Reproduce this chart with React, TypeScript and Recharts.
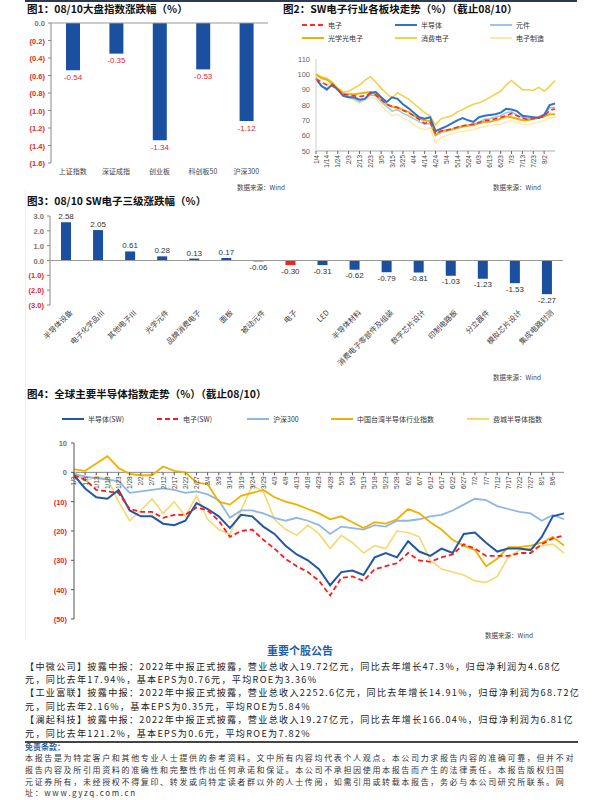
import React from 'react'
import {
  BarChart,
  Bar,
  LineChart,
  Line,
  XAxis,
  YAxis,
  ReferenceLine,
  LabelList,
  Cell,
} from 'recharts'

const CJK = '"Noto Sans CJK SC", "Noto Sans", sans-serif'
const NUM = '"Liberation Sans", Arial, sans-serif'
const RED = '#e3262b'
const NAVY = '#1b4f9f'

// 图1 大盘指数
const idxNames = ['上证指数', '深证成指', '创业板', '科创板50', '沪深300']
const idxChg = [-0.54, -0.35, -1.34, -0.53, -1.12]
const c1Ticks = [0, -0.2, -0.4, -0.6, -0.8, -1.0, -1.2, -1.4, -1.6]

// 图2 SW电子各板块
const c2Dates = ['1/4', '1/9', '1/14', '1/19', '1/24', '1/29', '2/3', '2/8', '2/13', '2/18', '2/23', '2/28', '3/5', '3/10', '3/15', '3/20', '3/25', '3/30', '4/4', '4/9', '4/14', '4/19', '4/24', '4/29', '5/4', '5/9', '5/14', '5/19', '5/24', '5/29', '6/3', '6/8', '6/13', '6/18', '6/23', '6/28', '7/3', '7/8', '7/13', '7/18', '7/23', '7/28', '8/2', '8/7', '8/10']
const c2Ticks = ['1/4', '1/14', '1/24', '2/3', '2/13', '2/23', '3/5', '3/15', '3/25', '4/4', '4/14', '4/24', '5/4', '5/14', '5/24', '6/3', '6/13', '6/23', '7/3', '7/13', '7/23', '8/2']
const c2YTicks = [50, 60, 70, 80, 90, 100, 110]
const dianzi = [97, 95, 93, 92.5, 90, 87, 86.5, 86, 85.5, 86, 87.5, 86.5, 83.5, 80.5, 79, 78.5, 76.5, 75, 73, 70.5, 68, 69, 61.5, 63, 63.5, 64.5, 65.5, 66.5, 67, 67.5, 68.5, 70, 70, 71, 72, 73, 74.5, 73, 71.5, 70.5, 71, 72, 72.5, 76.5, 77.5]
const bandaoti = [97, 92.5, 90, 93.5, 90, 86, 85, 85, 83.5, 84, 88, 88.5, 85, 82, 85, 84, 80.5, 78, 75, 72, 71, 72, 63, 64.5, 66, 68, 70, 71.5, 70, 69, 72, 73, 73.5, 74, 75, 77.5, 77, 76, 73, 72.5, 72, 71.5, 73.5, 80, 81]
const yuanjian = [98, 92, 91, 93, 90, 86.5, 85, 84, 82, 84, 86.5, 86, 82, 79, 76, 77, 74.5, 73, 71, 69, 67.5, 68, 60, 62, 63, 64, 65.5, 66, 67, 67.5, 69, 70.5, 71, 72, 73, 75, 75.5, 73.5, 72, 71, 71.5, 72.5, 74, 78, 78.5]
const guangxue = [100, 97.5, 96.5, 94, 90.5, 87.5, 87, 87, 87.5, 88, 88.5, 87, 84, 80.5, 79, 78, 77, 75.5, 73, 71, 70, 69.5, 60.5, 63, 63.5, 64, 65, 66, 66.5, 67, 68, 69, 69, 70, 71, 72.5, 72, 71, 70, 70, 71, 71.5, 72.5, 74, 74]
const xiaofei = [100, 98.5, 97.5, 95, 91, 88.5, 89, 91, 93, 96, 98.5, 95, 91, 87.5, 84.5, 88, 86, 84, 81, 78, 75, 73, 67, 71, 72, 73, 75.5, 77, 79, 80.5, 81.5, 83, 85, 87, 89, 93, 96, 93, 90, 90, 89.5, 91.5, 89, 92, 96]
const zhizao = [99, 94, 93, 95, 90, 86, 85, 83, 81, 83, 85, 84, 80, 76, 73, 74, 71.5, 70, 67, 65, 64, 65, 55, 59, 60, 61, 62, 63, 63.5, 64, 65, 66, 66.5, 67, 67.5, 69, 70, 68.5, 67.5, 67, 68, 69, 70, 71.5, 72]

// 图3 SW电子三级
const subNames = ['半导体设备', '电子化学品Ⅲ', '其他电子Ⅲ', '光学元件', '品牌消费电子', '面板', '被动元件', '电子', 'LED', '半导体材料', '消费电子零部件及组装', '数字芯片设计', '印制电路板', '分立器件', '模拟芯片设计', '集成电路封测']
const subChg = [2.58, 2.05, 0.61, 0.28, 0.13, 0.17, -0.06, -0.3, -0.31, -0.62, -0.79, -0.81, -1.03, -1.23, -1.53, -2.27]
const c3Ticks = [-3, -2, -1, 0, 1, 2, 3]

// 图4 全球半导体指数
const c4Dates = ['1/3', '1/8', '1/13', '1/18', '1/23', '1/28', '2/2', '2/7', '2/12', '2/17', '2/22', '2/27', '3/4', '3/9', '3/14', '3/19', '3/24', '3/29', '4/3', '4/8', '4/13', '4/18', '4/23', '4/28', '5/3', '5/8', '5/13', '5/18', '5/23', '5/28', '6/2', '6/7', '6/12', '6/17', '6/22', '6/27', '7/2', '7/7', '7/12', '7/17', '7/22', '7/27', '8/1', '8/6', '8/10']
const c4Ticks = [-50, -40, -30, -20, -10, 0, 10]
const semiSW = [-1, -5.5, -8.5, -9, -6, -13, -15, -15, -17.5, -18, -16.5, -10.5, -12.5, -15, -19, -14.5, -15, -18.5, -21, -25, -28, -30, -33, -38.5, -34, -33.5, -35, -29, -27.5, -29, -23.5, -27, -28.5, -26, -27.5, -21, -20.5, -24, -27, -26, -26, -26.5, -22, -15, -14]
const elecSW = [-1, -2.5, -6, -6.5, -7, -12.5, -13.5, -13.5, -15.5, -14.5, -14.5, -12, -13, -16.5, -22, -20, -19.5, -23, -26, -29.5, -32, -34, -37, -42, -36, -35.5, -37, -33, -32, -31, -27.5, -30, -30.5, -29, -28, -24.5, -26, -28.5, -28.5, -28.5, -27.5, -27.5, -24.5, -22.5, -21.5]
const hs300 = [-0.5, -1.5, -2, -2.5, -3, -7, -6.5, -6, -5.5, -6, -7, -6.5, -7.5, -9.5, -15.5, -13, -13, -14, -15.5, -16.5, -15.5, -16.5, -18, -21, -18.5, -19, -19.5, -18, -18.5, -16.5, -16.5, -16, -15, -14.5, -13, -11, -9, -9.5, -11.5, -12.5, -13.5, -14, -16.5, -14.5, -16]
const twSemi = [1, 0.5, 3, 5.5, 1.5, -0.5, -1, -1, 2, 0.5, 0, -3.5, -4, -10, -11, -8, -7, -6, -8.5, -10, -11, -12.5, -14, -16, -15, -17, -19, -17, -17.5, -16, -12.5, -14, -17, -19.5, -23, -25, -26.5, -32, -29.5, -25.5, -25.5, -25, -24, -22, -25]
const sox = [0, -3, -1.5, -2, -10, -16.5, -13, -9, -14, -10, -15, -8, -16, -19.5, -21, -13, -4.5, -6.5, -16, -19.5, -21.5, -18, -21, -26, -21.5, -24, -27.5, -25, -26, -20, -20.5, -22, -30, -33, -34, -35, -37, -37.5, -35.5, -29, -26.5, -26, -25, -24.5, -27.5]

const notes = [
  '【中微公司】披露中报：2022年中报正式披露，营业总收入19.72亿元，同比去年增长47.3%，归母净利润为4.68亿',
  '元，同比去年17.94%，基本EPS为0.76元，平均ROE为3.36%',
  '【工业富联】披露中报：2022年中报正式披露，营业总收入2252.6亿元，同比去年增长14.91%，归母净利润为68.72亿',
  '元，同比去年2.16%，基本EPS为0.35元，平均ROE为5.84%',
  '【澜起科技】披露中报：2022年中报正式披露，营业总收入19.27亿元，同比去年增长166.04%，归母净利润为6.81亿',
  '元，同比去年121.2%，基本EPS为0.6元，平均ROE为7.82%',
]
const disclaimer = [
  '本报告是为特定客户和其他专业人士提供的参考资料。文中所有内容均代表个人观点。本公司力求报告内容的准确可靠，但并不对',
  '报告内容及所引用资料的准确性和完整性作出任何承诺和保证。本公司不承担因使用本报告而产生的法律责任。本报告版权归国',
  '元证券所有，未经授权不得复印、转发或向特定读者群以外的人士传阅，如需引用或转载本报告，务必与本公司研究所联系。网',
  '址：www.gyzq.com.cn',
]

const c1Data = idxNames.map((name, i) => ({ name, v: idxChg[i] }))
const c2Data = c2Dates.map((d, i) => ({
  d,
  dianzi: dianzi[i],
  bandaoti: bandaoti[i],
  yuanjian: yuanjian[i],
  guangxue: guangxue[i],
  xiaofei: xiaofei[i],
  zhizao: zhizao[i],
}))
const c3Data = subNames.map((name, i) => ({ name, v: subChg[i] }))
const c4Data = c4Dates.map((d, i) => ({
  d,
  semiSW: semiSW[i],
  elecSW: elecSW[i],
  hs300: hs300[i],
  twSemi: twSemi[i],
  sox: sox[i],
}))

const paren = (v: number, d: number) =>
  v < 0 ? `(${Math.abs(v).toFixed(d)})` : v.toFixed(d)

function YTick(props: any) {
  const { x, y, payload, digits = 1 } = props
  const v = Number(payload.value)
  return (
    <text x={x} y={y} dy={3} textAnchor="end" fontSize={7.5} fontWeight="bold"
      fontFamily={NUM} fill={v < 0 ? RED : '#777'}>
      {paren(v, digits)}
    </text>
  )
}

function VTick(props: any) {
  const { x, y, payload } = props
  return (
    <text x={x} y={y} dy={2.5} transform={`rotate(-90 ${x} ${y})`} textAnchor="end"
      fontSize={6.5} fontFamily={NUM} fill="#444">
      {payload.value}
    </text>
  )
}

function SlantTick(props: any) {
  const { x, y, payload } = props
  const ax = x + 5
  return (
    <text x={ax} y={y} dy={3} transform={`rotate(-45 ${ax} ${y})`} textAnchor="end"
      fontSize={7.5} fontFamily={CJK} fill="#444">
      {payload.value}
    </text>
  )
}

// 图4 的日期标签画在 0 轴上
const C4_H = 195
const C4_TOP = 13
const C4_XH = 6
const C4_MIN = -50
const C4_MAX = 10
const C4_ZERO = C4_TOP + ((C4_H - C4_TOP - C4_XH) * C4_MAX) / (C4_MAX - C4_MIN)

function ZeroTick(props: any) {
  const { x, payload } = props
  const ty = C4_ZERO + 4
  return (
    <g>
      <line x1={x} x2={x} y1={C4_ZERO} y2={C4_ZERO + 3} stroke="#555" />
      <text x={x} y={ty} dy={2.5} transform={`rotate(-90 ${x} ${ty})`} textAnchor="end"
        fontSize={6.5} fontFamily={NUM} fill="#444">
        {payload.value}
      </text>
    </g>
  )
}

function Text({ x, y, size, children, color = '#111', bold = false, center = false, spacing = 0 }: any) {
  const h = Math.round(size * 1.2 * 10) / 10
  return (
    <div
      style={{
        position: 'absolute',
        left: center ? 0 : x,
        width: center ? 600 : undefined,
        textAlign: center ? 'center' : 'left',
        top: y - h / 2,
        height: h,
        lineHeight: `${h}px`,
        fontSize: size,
        letterSpacing: spacing,
        fontWeight: bold ? 700 : 400,
        color,
        whiteSpace: 'nowrap',
        fontFamily: CJK,
      }}
    >
      {children}
    </div>
  )
}

function Key({ x, y, color, label, w = 22, sw = 2, dash }: any) {
  return (
    <div style={{ position: 'absolute', left: x, top: y - 5, height: 10, display: 'flex', alignItems: 'center', whiteSpace: 'nowrap' }}>
      <svg width={w} height={6} style={{ marginRight: 4 }}>
        <line x1={0} x2={w} y1={3} y2={3} stroke={color} strokeWidth={sw} strokeDasharray={dash} />
      </svg>
      <span style={{ fontSize: 7, lineHeight: '10px', color: '#333', fontFamily: CJK }}>{label}</span>
    </div>
  )
}

export default function App() {
  return (
    <div style={{ position: 'absolute', left: 0, top: 0, width: 600, height: 800, background: '#fff', overflow: 'hidden', fontFamily: CJK }}>
      <div style={{ position: 'absolute', left: 25, top: 0, width: 552, height: 2, background: '#2b3a55' }} />
      <div style={{ position: 'absolute', left: 25, top: 190, width: 1, height: 450, background: '#eeeeee' }} />

      {/* 图1 */}
      <Text x={27} y={9} size={10.5} bold>图1：08/10大盘指数涨跌幅（%）</Text>
      <div style={{ position: 'absolute', left: 0, top: 0 }}>
        <BarChart width={290} height={182} data={c1Data} margin={{ top: 23, right: 22, bottom: 0, left: 0 }}>
          <XAxis dataKey="name" axisLine={false} tickLine={false} height={19} tickSize={4} tickMargin={2}
            interval={0} tick={{ fontSize: 7, fill: '#444', fontFamily: CJK }} />
          <YAxis domain={[-1.6, 0]} ticks={c1Ticks} interval={0} width={51} tickSize={3} tickMargin={3}
            axisLine={{ stroke: '#888' }} tickLine={{ stroke: '#888' }} tick={(p: any) => <YTick {...p} digits={1} />} />
          <ReferenceLine y={0} stroke="#999" />
          <Bar dataKey="v" fill={NAVY} barSize={14} isAnimationActive={false}>
            <LabelList dataKey="v" position="top" offset={4} fill={RED} fontSize={8} fontFamily={NUM}
              formatter={(v: any) => Number(v).toFixed(2)} />
          </Bar>
        </BarChart>
      </div>
      <Text x={237} y={188} size={6.5} color="#444">数据来源：Wind</Text>

      {/* 图2 */}
      <Text x={283} y={9} size={10.5} bold>图2：SW电子行业各板块走势（%）（截止08/10）</Text>
      <Key x={302} y={25} color="#ff2a2a" label="电子" dash="5 3" />
      <Key x={395} y={25} color="#2e74c9" label="半导体" />
      <Key x={490} y={25} color="#9ec4ea" label="元件" />
      <Key x={302} y={38} color="#f2b000" label="光学光电子" />
      <Key x={395} y={38} color="#f5cf45" label="消费电子" />
      <Key x={490} y={38} color="#fbe9a6" label="电子制造" />
      <div style={{ position: 'absolute', left: 290, top: 45 }}>
        <LineChart width={310} height={134} data={c2Data} margin={{ top: 14, right: 45, bottom: 0, left: 0 }}>
          <XAxis dataKey="d" ticks={c2Ticks} interval={0} height={28} tickSize={3} tickMargin={1}
            axisLine={{ stroke: '#aaa' }} tickLine={{ stroke: '#666' }} tick={(p: any) => <VTick {...p} />} />
          <YAxis domain={[50, 110]} ticks={c2YTicks} interval={0} width={26} tickSize={0} tickMargin={6}
            axisLine={{ stroke: '#ccc' }} tick={{ fontSize: 7.5, fill: '#666', fontFamily: NUM }} />
          <Line dataKey="zhizao" stroke="#fbe9a6" strokeWidth={1.3} dot={false} isAnimationActive={false} />
          <Line dataKey="xiaofei" stroke="#f5cf45" strokeWidth={1.5} dot={false} isAnimationActive={false} />
          <Line dataKey="yuanjian" stroke="#9ec4ea" strokeWidth={1.5} dot={false} isAnimationActive={false} />
          <Line dataKey="guangxue" stroke="#f2b000" strokeWidth={2} dot={false} isAnimationActive={false} />
          <Line dataKey="bandaoti" stroke="#2e74c9" strokeWidth={2} dot={false} isAnimationActive={false} />
          <Line dataKey="dianzi" stroke="#ff2a2a" strokeWidth={1.6} strokeDasharray="5 3" dot={false} isAnimationActive={false} />
        </LineChart>
      </div>
      <Text x={493} y={188} size={6.5} color="#444">数据来源：Wind</Text>

      {/* 图3 */}
      <Text x={27} y={201} size={10.5} bold>图3：08/10 SW电子三级涨跌幅（%）</Text>
      <div style={{ position: 'absolute', left: 0, top: 190 }}>
        <BarChart width={600} height={180} data={c3Data} margin={{ top: 26, right: 37, bottom: 0, left: 0 }}>
          <XAxis dataKey="name" axisLine={false} tickLine={false} interval={0} height={65} tickSize={4} tickMargin={2}
            tick={(p: any) => <SlantTick {...p} />} />
          <YAxis domain={[-3, 3]} ticks={c3Ticks} interval={0} width={50} tickSize={3} tickMargin={3}
            axisLine={{ stroke: '#888' }} tickLine={{ stroke: '#888' }} tick={(p: any) => <YTick {...p} digits={1} />} />
          <ReferenceLine y={0} stroke="#999" />
          <Bar dataKey="v" barSize={10} isAnimationActive={false}>
            {c3Data.map((d) => (
              <Cell key={d.name} fill={d.name === '电子' ? '#ff1a1a' : NAVY} />
            ))}
            <LabelList dataKey="v" position="top" offset={3} fill="#333" fontSize={8} fontFamily={NUM}
              formatter={(v: any) => Number(v).toFixed(2)} />
          </Bar>
        </BarChart>
      </div>
      <Text x={493} y={378} size={6.5} color="#444">数据来源：Wind</Text>

      {/* 图4 */}
      <Text x={27} y={394} size={10.5} bold>图4：全球主要半导体指数走势（%）（截止08/10）</Text>
      <Key x={62} y={419} color="#2157a5" label="半导体(SW)" />
      <Key x={157} y={419} color="#ff1a1a" label="电子(SW)" dash="5 3" />
      <Key x={247} y={419} color="#8fb7e3" label="沪深300" />
      <Key x={331} y={419} color="#f0b000" label="中国台湾半导体行业指数" />
      <Key x={467} y={419} color="#f7d870" label="费城半导体指数" />
      <div style={{ position: 'absolute', left: 0, top: 430 }}>
        <LineChart width={600} height={C4_H} data={c4Data} margin={{ top: C4_TOP, right: 36, bottom: 0, left: 0 }}>
          <XAxis dataKey="d" ticks={c4Dates.slice(0, -1)} interval={0} height={C4_XH} axisLine={false} tickLine={false}
            tick={(p: any) => <ZeroTick {...p} />} />
          <YAxis domain={[C4_MIN, C4_MAX]} ticks={c4Ticks} interval={0} width={74} tickSize={3} tickMargin={4}
            axisLine={{ stroke: '#555' }} tickLine={{ stroke: '#555' }} tick={(p: any) => <YTick {...p} digits={0} />} />
          <ReferenceLine y={0} stroke="#888" />
          <Line dataKey="sox" stroke="#f7d870" strokeWidth={1.6} dot={false} isAnimationActive={false} />
          <Line dataKey="hs300" stroke="#8fb7e3" strokeWidth={1.8} dot={false} isAnimationActive={false} />
          <Line dataKey="twSemi" stroke="#f0b000" strokeWidth={1.8} dot={false} isAnimationActive={false} />
          <Line dataKey="semiSW" stroke="#2157a5" strokeWidth={2} dot={false} isAnimationActive={false} />
          <Line dataKey="elecSW" stroke="#ff1a1a" strokeWidth={1.8} strokeDasharray="5 3" dot={false} isAnimationActive={false} />
        </LineChart>
      </div>
      <Text x={485} y={636} size={6.5} color="#444">数据来源：Wind</Text>

      {/* 个股公告 */}
      <Text y={651} size={11} bold center color="#1f5fa8">重要个股公告</Text>
      {notes.map((t, i) => (
        <Text key={i} x={25} y={666 + i * 13.4} size={9.1} spacing={1.3} color="#222">{t}</Text>
      ))}
      <div style={{ position: 'absolute', left: 25, top: 741, width: 553, height: 1.5, background: '#444' }} />
      <Text x={25} y={746.5} size={8} bold color="#1f5fa8">免责条款：</Text>
      {disclaimer.map((t, i) => (
        <Text key={i} x={25} y={758 + i * 11.7} size={8} spacing={1.65} color="#333">{t}</Text>
      ))}
    </div>
  )
}
